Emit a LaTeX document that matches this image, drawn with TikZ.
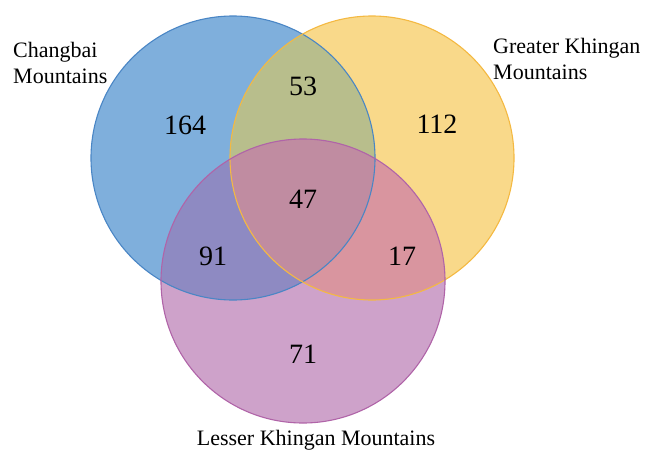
\documentclass[tikz,border=0pt]{standalone}
\usepackage{fontspec}
\setmainfont{Liberation Serif}
\definecolor{cB}{HTML}{7FAFDC}
\definecolor{cY}{HTML}{F9D98A}
\definecolor{cP}{HTML}{CEA2CA}
\definecolor{cBY}{HTML}{B8BE8C}
\definecolor{cBP}{HTML}{8E8AC2}
\definecolor{cYP}{HTML}{D9959F}
\definecolor{cBYP}{HTML}{C08CA1}
\definecolor{sB}{HTML}{4A86C5}
\definecolor{sY}{HTML}{F4B942}
\definecolor{sP}{HTML}{B064A8}
\def\pA{(233pt,-158pt) circle[radius=142pt]}
\def\pB{(372pt,-158pt) circle[radius=142pt]}
\def\pC{(303pt,-281pt) circle[radius=142pt]}
\tikzset{
  lbl/.style={font=\fontsize{22}{26.5}\selectfont, inner sep=0pt, align=left},
  num/.style={font=\fontsize{28}{30}\selectfont, inner sep=0pt},
  edge/.style={line width=1.1pt}
}
\begin{document}
\begin{tikzpicture}[x=1pt,y=-1pt]
\useasboundingbox (0,0) rectangle (647,450);
\fill[cB] \pA;
\fill[cY] \pB;
\fill[cP] \pC;
\begin{scope}\clip \pA; \fill[cBY] \pB; \end{scope}
\begin{scope}\clip \pA; \fill[cBP] \pC; \end{scope}
\begin{scope}\clip \pB; \fill[cYP] \pC; \end{scope}
\begin{scope}\clip \pA; \clip \pB; \fill[cBYP] \pC; \end{scope}
\draw[edge, sB] \pA;
\draw[edge, sY] \pB;
\draw[edge, sP] \pC;
\node[lbl, anchor=base west] (cbl) at (13,83.5) {Changbai\\Mountains};
\node[lbl, anchor=base west] (gkl) at (493,79.5) {Greater Khingan\\Mountains};
\node[lbl, anchor=base] (lkl) at (316,445) {Lesser Khingan Mountains};
\node[num] (n164) at (185,125) {164};
\node[num] (n53) at (303,86) {53};
\node[num] (n112) at (437,124) {112};
\node[num] (n47) at (303,199) {47};
\node[num] (n91) at (213,256) {91};
\node[num] (n17) at (402,256) {17};
\node[num] (n71) at (303,354) {71};
\end{tikzpicture}
\end{document}
